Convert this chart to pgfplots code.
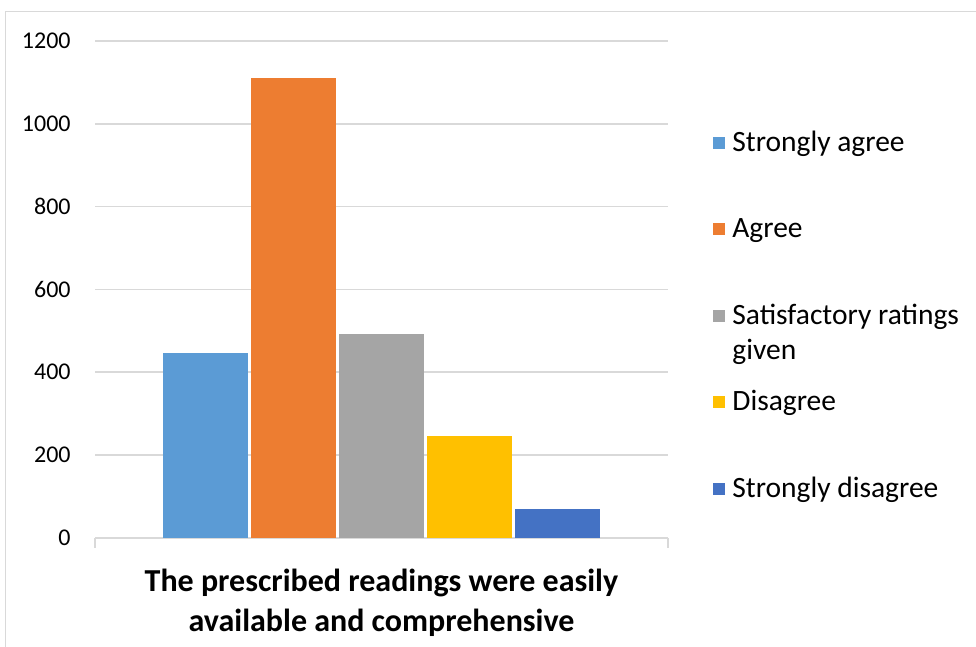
\documentclass[border=0pt]{standalone}
\usepackage{pgfplots}
\pgfplotsset{compat=1.18}
\usepackage{fontspec}
\setmainfont{Carlito}
\definecolor{c1}{HTML}{5B9BD5}
\definecolor{c2}{HTML}{ED7D31}
\definecolor{c3}{HTML}{A5A5A5}
\definecolor{c4}{HTML}{FFC000}
\definecolor{c5}{HTML}{4472C4}
\definecolor{gridc}{HTML}{D9D9D9}
\begin{document}
\begin{tikzpicture}
\path[use as bounding box] (0pt,0pt) rectangle (488pt,-323.5pt);
\draw[gridc, line width=0.75pt] (2.75pt,-323.5pt) -- (2.75pt,-5.75pt) -- (488pt,-5.75pt);
\begin{axis}[
  at={(47.5pt,-268.75pt)}, anchor=south west,
  scale only axis, width=286.5pt, height=248.25pt,
  xmin=-0.5, xmax=0.5, ymin=0, ymax=1200,
  ybar=1.5pt, bar width=42.5pt,
  legend image code/.code={\fill[#1,draw=none] (0pt,-4.4pt) rectangle (6pt,1.6pt); \path (7.5pt,0pt);},
  axis x line*=bottom, axis y line*=left,
  y axis line style={draw=none},
  x axis line style={gridc, line width=1pt},
  xtick={-0.5,0.5}, xticklabels={,,},
  x tick style={gridc, line width=1pt}, tick align=outside, major tick length=5pt,
  ytick={0,200,...,1200}, y tick style={draw=none},
  ymajorgrids, major grid style={gridc, line width=0.75pt},
  yticklabel style={font=\fontsize{12}{14}\selectfont, inner sep=0pt, xshift=-7pt},
  /pgf/number format/assume math mode=true,
  /pgf/number format/1000 sep={},
  xlabel={The prescribed readings were easily\\available and comprehensive},
  xlabel style={font=\bfseries\fontsize{16}{20}\selectfont, align=center, at={(axis description cs:0.5,-0.1897)}, anchor=base, inner sep=0pt},
  legend style={at={(1.068,0.8395)}, anchor=north west, draw=none, fill=none,
    font=\fontsize{14.75}{17.5}\selectfont, row sep=28.25pt, cells={anchor=west},
    nodes={inner sep=2pt, text height=11pt, text depth=0pt}, inner xsep=3pt, inner ysep=2pt},
]
\addplot[fill=c1, draw=none] coordinates {(0,446)};
\addlegendentry{Strongly agree}
\addplot[fill=c2, draw=none] coordinates {(0,1110)};
\addlegendentry{Agree}
\addplot[fill=c3, draw=none] coordinates {(0,492)};
\addlegendentry{\vtop{\baselineskip=17.5pt\hbox{Satisfactory ratings}\hbox{given}}}
\addplot[fill=c4, draw=none] coordinates {(0,246)};
\addlegendentry{Disagree}
\addplot[fill=c5, draw=none] coordinates {(0,68)};
\addlegendentry{Strongly disagree}
\end{axis}
\end{tikzpicture}
\end{document}
